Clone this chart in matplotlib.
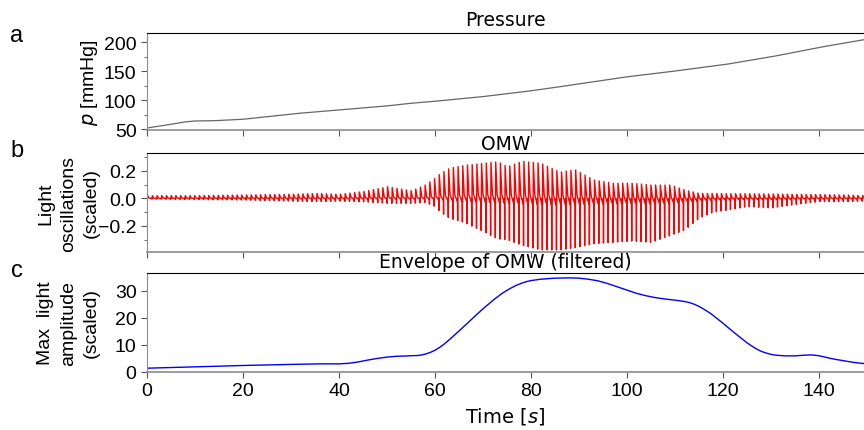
import matplotlib.pyplot as plt
import matplotlib.ticker as mticker
import numpy as np

plt.rcParams['font.family'] = 'Liberation Sans'

# panel a: cuff pressure
p_time = [0, 4, 8, 10, 14, 20, 32, 40, 50, 55, 60, 70, 80, 86, 100, 110, 121, 131, 141, 149.4]
p_mmhg = [52, 57, 62.5, 64, 64.5, 67, 77.5, 83, 90, 94.5, 98, 106, 116, 123, 140, 150, 162, 176, 192, 204]

# panel b: upper / lower peaks of the light oscillations
omw_t = [0, 10, 20, 30, 35, 40, 45, 50, 55, 58, 60, 61, 63, 66, 70, 73, 75, 78, 82, 86,
         89, 93, 97, 101, 105, 109, 112, 115, 118, 121, 125, 130, 135, 140, 145, 149.4]
omw_hi = [0.02, 0.02, 0.025, 0.03, 0.036, 0.03, 0.05, 0.085, 0.055, 0.10, 0.15, 0.18, 0.22, 0.24,
          0.255, 0.267, 0.23, 0.27, 0.255, 0.19, 0.21, 0.134, 0.11, 0.11, 0.097, 0.097, 0.06,
          0.036, 0.036, 0.034, 0.034, 0.032, 0.03, 0.028, 0.025, 0.02]
omw_lo = [-0.005, -0.008, -0.012, -0.02, -0.024, -0.02, -0.025, -0.036, -0.036, -0.03, -0.06,
          -0.097, -0.145, -0.175, -0.24, -0.295, -0.30, -0.34, -0.375, -0.375, -0.36, -0.33,
          -0.32, -0.31, -0.32, -0.27, -0.23, -0.145, -0.10, -0.085, -0.06, -0.07, -0.044,
          -0.024, -0.024, -0.02]
beat_period = 0.98

# panel c: filtered envelope
env_t = [0, 10, 20, 30, 36, 40, 42, 44, 46, 48, 50, 52, 54, 55, 56, 57, 58, 59, 60, 61, 62,
         63, 64, 65, 67.5, 70, 72.5, 74, 75, 76, 77, 78, 79, 80, 82, 85, 88, 90, 92, 94, 96,
         98, 100, 102, 104, 106, 108, 110, 112, 113, 114, 115, 116, 117.5, 120, 122.5, 125,
         126, 127, 128, 129, 130, 131, 133, 135, 137, 138.5, 140, 141, 143, 145, 147, 149.4]
env_v = [1.4, 1.9, 2.4, 2.8, 3.0, 3.0, 3.2, 3.7, 4.4, 5.0, 5.5, 5.8, 5.9, 6.0, 6.05, 6.2, 6.6,
         7.2, 8.0, 9.1, 10.4, 11.9, 13.5, 15.1, 19.2, 23.3, 27.0, 29.0, 30.1, 31.1, 32.0, 32.7,
         33.3, 33.7, 34.2, 34.6, 34.7, 34.6, 34.2, 33.6, 32.6, 31.4, 30.2, 29.0, 28.1, 27.4,
         26.9, 26.5, 26.0, 25.6, 25.0, 24.2, 23.2, 21.5, 18.0, 14.3, 10.8, 9.6, 8.5, 7.6, 7.0,
         6.5, 6.2, 5.95, 5.95, 6.2, 6.3, 6.0, 5.6, 4.8, 4.2, 3.6, 3.1]

# build the beat-by-beat waveform from the peak readings
onsets = np.arange(0, 149.4, beat_period)
phase = [0.0, 0.06, 0.14, 0.45, 0.95]
sig_t, sig_v = [], []
for t0 in onsets:
    hi = np.interp(t0, omw_t, omw_hi)
    lo = np.interp(t0, omw_t, omw_lo)
    vals = [0.0, lo, hi, 0.1 * hi, 0.12 * lo]
    for ph, v in zip(phase, vals):
        sig_t.append(t0 + ph * beat_period)
        sig_v.append(v)

fig = plt.figure(figsize=(8.64, 4.31), dpi=100)
left, width = 147 / 864, 1 - 147 / 864
ax_a = fig.add_axes([left, 1 - 131 / 431, width, 97 / 431])
ax_b = fig.add_axes([left, 1 - 253 / 431, width, 99 / 431])
ax_c = fig.add_axes([left, 1 - 373 / 431, width, 99 / 431])

ax_a.plot(p_time, p_mmhg, color='#666666', lw=0.9)
ax_b.plot(sig_t, sig_v, color='red', lw=1.0)
ax_c.plot(env_t, env_v, color='blue', lw=1.0)

ax_a.set_ylim(48.5, 215.5)
ax_a.set_yticks([50, 100, 150, 200])
ax_a.yaxis.set_minor_locator(mticker.MultipleLocator(25))
ax_b.set_ylim(-0.39, 0.33)
ax_b.set_yticks([-0.2, 0.0, 0.2])
ax_b.yaxis.set_minor_locator(mticker.MultipleLocator(0.1))
ax_c.set_ylim(0, 36.5)
ax_c.set_yticks([0, 10, 20, 30])

titles = ['Pressure', 'OMW', 'Envelope of OMW (filtered)']
pads = [6, 2.5, 4]
ylabels = ['$p$ [mmHg]', 'Light\noscillations\n(scaled)', 'Max  light\namplitude\n(scaled)']
letters = ['a', 'b', 'c']
letter_y = [42, 157, 277]

for ax, title, pad, yl, let, ly in zip([ax_a, ax_b, ax_c], titles, pads, ylabels, letters, letter_y):
    ax.set_xlim(0, 149.4)
    ax.set_xticks(range(0, 141, 20))
    ax.set_title(title, family='DejaVu Sans', fontsize=13.5, pad=pad)
    ax.set_ylabel(yl, fontsize=14, linespacing=1.45, multialignment='center')
    ax.yaxis.set_label_coords(-0.066, 0.5)
    ax.spines['right'].set_visible(False)
    ax.spines['top'].set_color('black')
    ax.spines['left'].set_color('#8c8c8c')
    ax.spines['bottom'].set_color('#8c8c8c')
    ax.spines['bottom'].set_linewidth(1.2)
    ax.tick_params(which='both', direction='out', color='#555555', labelsize=14)
    ax.tick_params(which='major', length=4)
    ax.tick_params(which='minor', length=2.5)
    fig.text(17 / 864, 1 - ly / 431, let, fontsize=17, ha='center', va='baseline')

ax_a.tick_params(axis='x', labelbottom=False)
ax_b.tick_params(axis='x', labelbottom=False)
ax_c.set_xlabel('Time [$s$]', family='DejaVu Sans', fontsize=14, labelpad=4)

fig.savefig('out.png', dpi=100)
